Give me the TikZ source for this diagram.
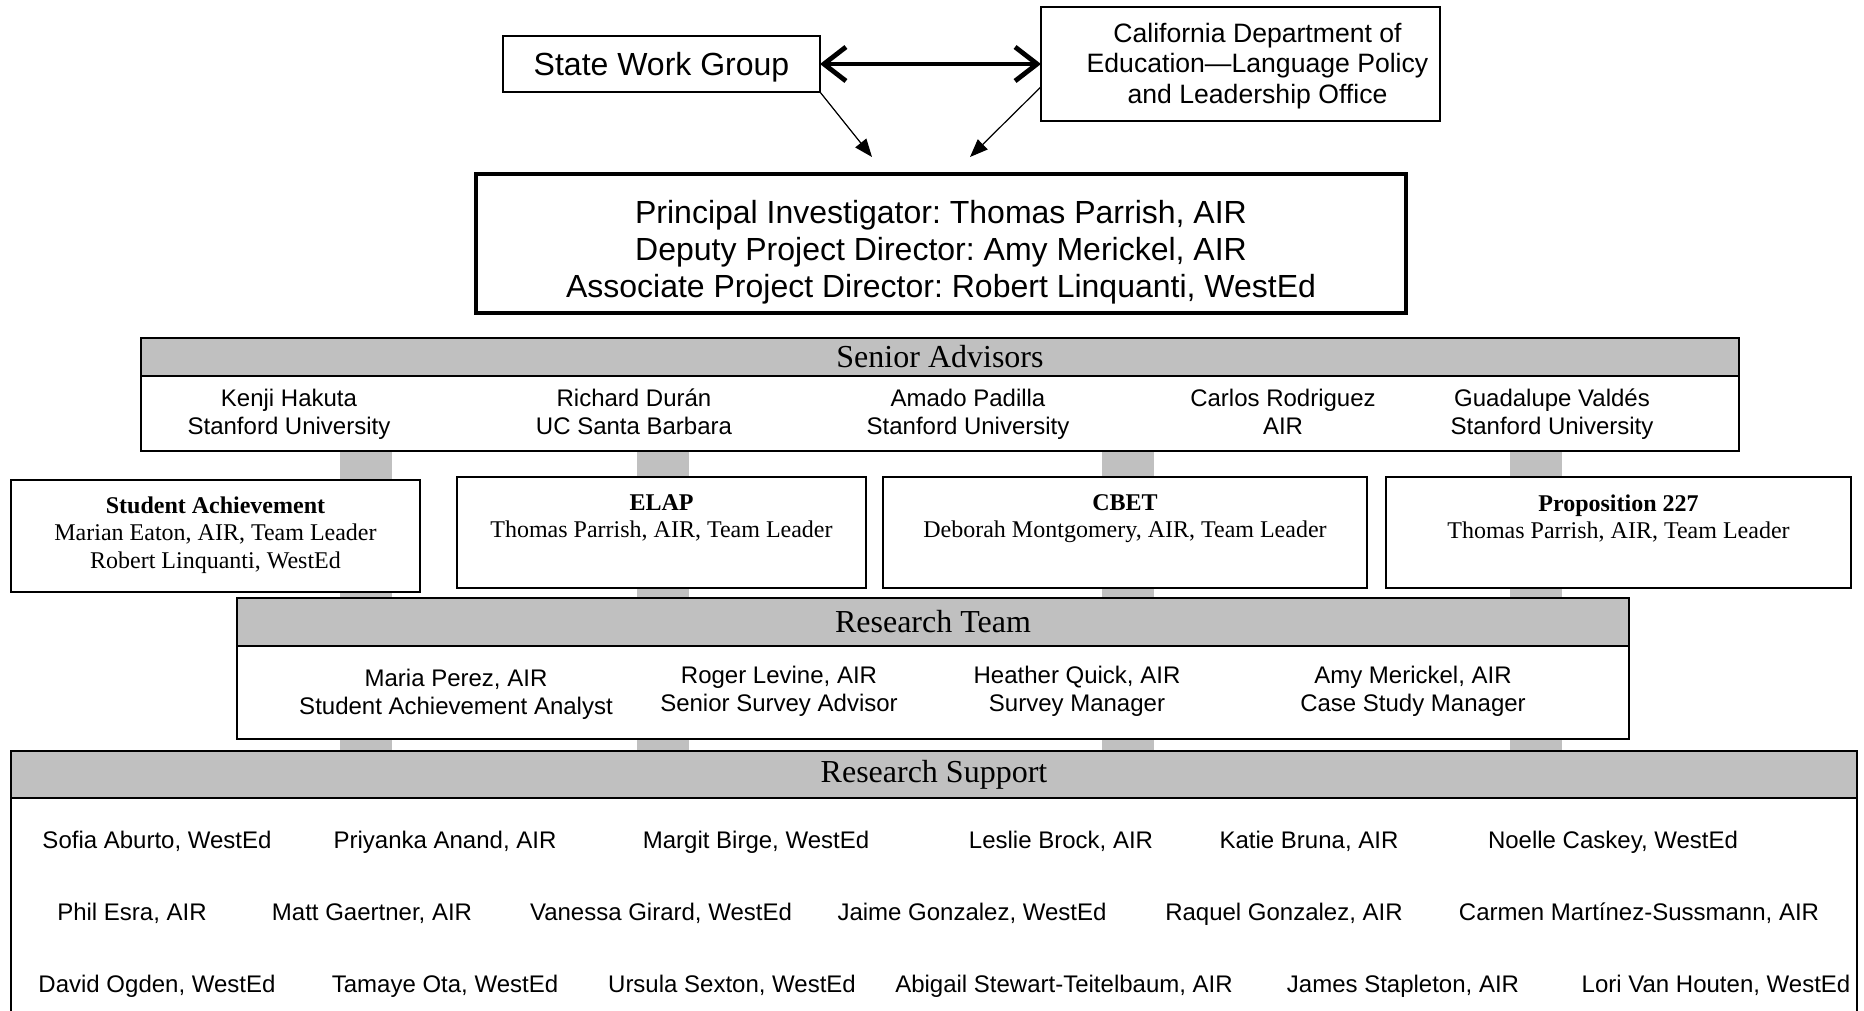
\documentclass[tikz,border=0pt]{standalone}
\usepackage{fontspec}
\setmainfont{Liberation Serif}
\setsansfont{Liberation Sans}
\frenchspacing
\usepackage{tikz}
\usetikzlibrary{arrows.meta, positioning, calc, backgrounds}
\definecolor{bargray}{RGB}{192,192,192}

\begin{document}
\begin{tikzpicture}[x=0.5pt, y=-0.5pt, >=Stealth,
    box/.style={draw, line width=0.7pt, fill=white, inner sep=0pt, outer sep=0pt},
    headbox/.style={box, fill=bargray},
    bar/.style={bargray, line width=26pt},
    lg/.style={font=\sffamily\fontsize{16}{18.4}\selectfont, align=center},
    md/.style={font=\sffamily\fontsize{13.3}{15.3}\selectfont, align=center},
    sm/.style={font=\sffamily\fontsize{12}{13.8}\selectfont, align=center, anchor=base},
    hd/.style={font=\fontsize{16}{18}\selectfont},
    tm/.style={font=\fontsize{12}{13.8}\selectfont, align=center, anchor=north, inner sep=0pt},
    dbl/.style={{Straight Barb[length=11pt,width=17pt]}-{Straight Barb[length=11pt,width=17pt]}, line width=2.4pt},
    thin/.style={-{Triangle[length=9pt,width=7pt]}, line width=0.6pt}]
\useasboundingbox (0,0) rectangle (1864,1011);

% state level
\node[box, minimum width=158.5pt, minimum height=28pt, lg, text depth=0pt] (swg) at (661.5,64) {State Work Group};
\node[box, minimum width=199.5pt, minimum height=57pt] (cde) at (1240.5,64) {};
\node[md] (cdetxt) at ([xshift=8.5pt,yshift=-1pt]cde.center) {California Department of\\Education—Language Policy\\and Leadership Office};
\draw[dbl] (swg.east) -- (cde.west);
\coordinate (swgend) at (872,157);
\coordinate (cdeend) at (970,157);
\draw[thin] (swg.south east) -- (swgend);
\draw[thin] ($(cde.west)!0.4!(cde.south west)$) -- (cdeend);

% directors
\node[box, line width=2pt, minimum width=465pt, minimum height=69.5pt] (pi) at (941,243.5) {};
\node[lg] (pitxt) at ([yshift=-4.5pt]pi.center)
    {Principal Investigator: Thomas Parrish, AIR\\Deputy Project Director: Amy Merickel, AIR\\Associate Project Director: Robert Linquanti, WestEd};

% senior advisors
\node[headbox, minimum width=799pt, minimum height=19pt, hd] (sah) at (940,357) {Senior Advisors};
\node[box, minimum width=799pt, minimum height=37.5pt, below=0pt of sah] (sa) {};
\foreach \x/\t [count=\i] in {289/{Kenji Hakuta\\Stanford University}, 634/{Richard Durán\\UC Santa Barbara},
    968/{Amado Padilla\\Stanford University}, 1283/{Carlos Rodriguez\\AIR}, 1552/{Guadalupe Valdés\\Stanford University}}
    \node[sm] (adv\i) at (\x,434.5) {\t};

% study teams
\node[box, minimum width=204.5pt, minimum height=56pt] (ach) at (215.5,536) {};
\node[box, minimum width=204.5pt, minimum height=55.5pt] (elap) at (661.5,532.5) {};
\node[box, minimum width=242pt, minimum height=55.5pt] (cbet) at (1125,532.5) {};
\node[box, minimum width=232.5pt, minimum height=55.5pt] (prop) at (1618.5,532.5) {};
\node[tm] (achtxt) at ([yshift=-8pt]ach.north) {\textbf{Student Achievement}\\Marian Eaton, AIR, Team Leader\\Robert Linquanti, WestEd};
\node[tm] (elaptxt) at ([yshift=-8.5pt]elap.north) {\textbf{ELAP}\\Thomas Parrish, AIR, Team Leader};
\node[tm] (cbettxt) at ([yshift=-8.5pt]cbet.north) {\textbf{CBET}\\Deborah Montgomery, AIR, Team Leader};
\node[tm] (proptxt) at ([yshift=-8.5pt]prop.north) {\textbf{Proposition 227}\\Thomas Parrish, AIR, Team Leader};

% research team
\node[headbox, minimum width=696pt, minimum height=24pt, hd] (rth) at (933,622) {Research Team};
\node[box, minimum width=696pt, minimum height=46.5pt, below=0pt of rth] (rt) {};
\node[sm] (rt1) at (456,714.5) {Maria Perez, AIR\\Student Achievement Analyst};
\foreach \x/\t [count=\i from 2] in {779/{Roger Levine, AIR\\Senior Survey Advisor},
    1077/{Heather Quick, AIR\\Survey Manager}, 1413/{Amy Merickel, AIR\\Case Study Manager}}
    \node[sm] (rt\i) at (\x,711.5) {\t};

% research support
\node[headbox, minimum width=923pt, minimum height=23.5pt, hd] (rsh) at (934,774.5) {Research Support};
\node[box, minimum width=923pt, minimum height=150pt, below=0pt of rsh] (rs) {};
\foreach \x/\t [count=\i] in {157/{Sofia Aburto, WestEd}, 445/{Priyanka Anand, AIR}, 756/{Margit Birge, WestEd},
    1061/{Leslie Brock, AIR}, 1309/{Katie Bruna, AIR}, 1613/{Noelle Caskey, WestEd}}
    \node[sm] (rsa\i) at (\x,848) {\t};
\foreach \x/\t [count=\i] in {132/{Phil Esra, AIR}, 372/{Matt Gaertner, AIR}, 661/{Vanessa Girard, WestEd},
    972/{Jaime Gonzalez, WestEd}, 1284/{Raquel Gonzalez, AIR}, 1639/{Carmen Martínez-Sussmann, AIR}}
    \node[sm] (rsb\i) at (\x,920) {\t};
\foreach \x/\t [count=\i] in {157/{David Ogden, WestEd}, 445/{Tamaye Ota, WestEd}, 732/{Ursula Sexton, WestEd},
    1064/{Abigail Stewart-Teitelbaum, AIR}, 1403/{James Stapleton, AIR}, 1716/{Lori Van Houten, WestEd}}
    \node[sm] (rsc\i) at (\x,992) {\t};

% gray links behind the boxes
\begin{scope}[on background layer]
  \foreach \x [count=\i] in {366,663,1128,1536} {
    \coordinate (lk\i) at (\x,0);
    \draw[bar] (sa.south -| lk\i) -- (rsh.north -| lk\i);
  }
\end{scope}
\end{tikzpicture}
\end{document}
